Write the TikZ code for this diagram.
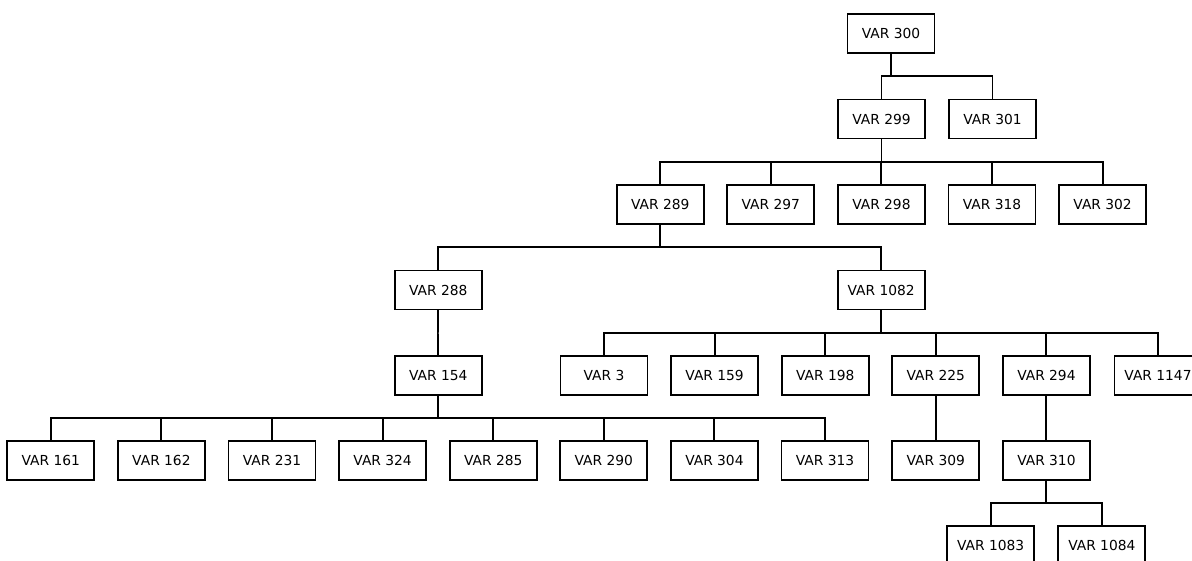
\documentclass[tikz,border=0pt]{standalone}
\usepackage{fontspec}
\setmainfont{DejaVu Sans}
\usetikzlibrary{calc}
\tikzset{
  box/.style={draw=black, line width=1.9pt, fill=white, minimum width=87pt, minimum height=39pt, inner sep=0pt, font=\fontsize{13.8pt}{16pt}\selectfont},
  link/.style={draw=black, line width=1.9pt}
}
\newcommand{\tlink}[2]{\draw[link] (#1.south) |- ($(#1.south)!0.5!(#2.north)$) -| (#2.north);}
\begin{document}
\begin{tikzpicture}[x=1pt,y=-1pt]
\useasboundingbox (0,0) rectangle (1192,560);
\clip (0,0) rectangle (1192,560);
\fill[white] (0,0) rectangle (1192,560);
% row 1
\node[box] (n300) at (891,33.8) {VAR 300};
% row 2
\node[box] (n299) at (881.5,119) {VAR 299};
\node[box] (n301) at (992.5,119) {VAR 301};
% row 3
\node[box] (n289) at (660.3,204.5) {VAR 289};
\node[box] (n297) at (770.8,204.5) {VAR 297};
\node[box] (n298) at (881.4,204.5) {VAR 298};
\node[box] (n318) at (992,204.5) {VAR 318};
\node[box] (n302) at (1102.6,204.5) {VAR 302};
% row 4
\node[box] (n288) at (438.3,290) {VAR 288};
\node[box] (n1082) at (881.2,290) {VAR 1082};
% row 5
\node[box] (n154) at (438.3,375.3) {VAR 154};
\node[box] (n3) at (604,375.3) {VAR 3};
\node[box] (n159) at (714.6,375.3) {VAR 159};
\node[box] (n198) at (825.2,375.3) {VAR 198};
\node[box] (n225) at (935.8,375.3) {VAR 225};
\node[box] (n294) at (1046.4,375.3) {VAR 294};
\node[box] (n1147) at (1158,375.3) {VAR 1147};
% row 6
\node[box] (n161) at (50.8,460.5) {VAR 161};
\node[box] (n162) at (161.4,460.5) {VAR 162};
\node[box] (n231) at (272,460.5) {VAR 231};
\node[box] (n324) at (382.6,460.5) {VAR 324};
\node[box] (n285) at (493.2,460.5) {VAR 285};
\node[box] (n290) at (603.8,460.5) {VAR 290};
\node[box] (n304) at (714.4,460.5) {VAR 304};
\node[box] (n313) at (825,460.5) {VAR 313};
\node[box] (n309) at (935.8,460.5) {VAR 309};
\node[box] (n310) at (1046.4,460.5) {VAR 310};
% row 7
\node[box] (n1083) at (990.6,545.8) {VAR 1083};
\node[box] (n1084) at (1101.8,545.8) {VAR 1084};
% links
\tlink{n300}{n299}
\tlink{n300}{n301}
\tlink{n299}{n289}
\tlink{n299}{n297}
\tlink{n299}{n298}
\tlink{n299}{n318}
\tlink{n299}{n302}
\tlink{n289}{n288}
\tlink{n289}{n1082}
\tlink{n288}{n154}
\tlink{n1082}{n3}
\tlink{n1082}{n159}
\tlink{n1082}{n198}
\tlink{n1082}{n225}
\tlink{n1082}{n294}
\tlink{n1082}{n1147}
\tlink{n154}{n161}
\tlink{n154}{n162}
\tlink{n154}{n231}
\tlink{n154}{n324}
\tlink{n154}{n285}
\tlink{n154}{n290}
\tlink{n154}{n304}
\tlink{n154}{n313}
\tlink{n225}{n309}
\tlink{n294}{n310}
\tlink{n310}{n1083}
\tlink{n310}{n1084}
\end{tikzpicture}
\end{document}
